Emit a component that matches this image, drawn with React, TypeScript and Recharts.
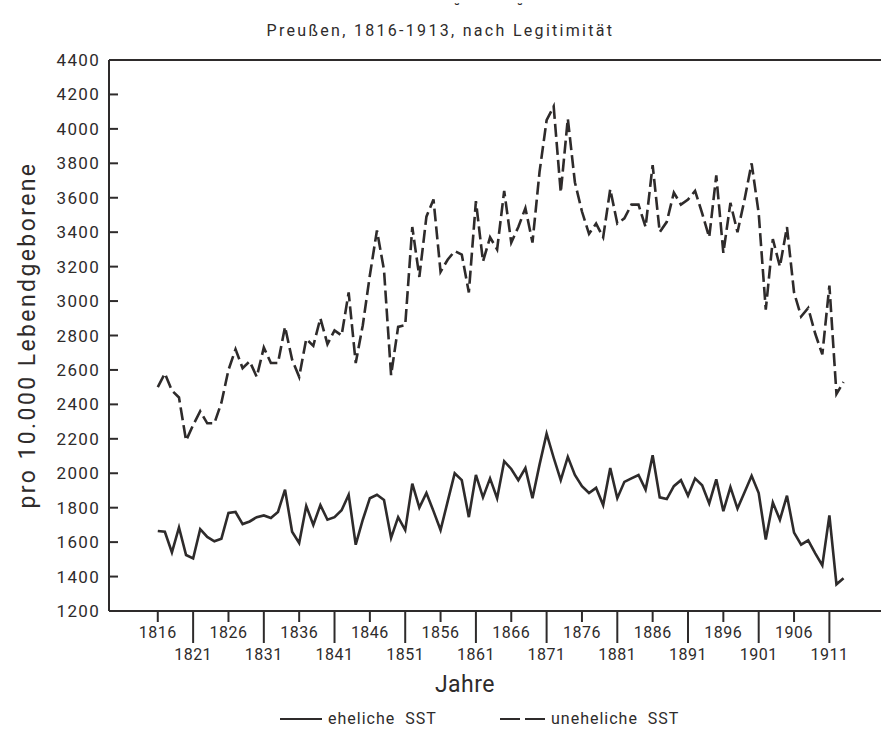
import { LineChart, Line, XAxis, YAxis, ReferenceLine } from 'recharts';

// Preußen 1816-1913, Säuglingssterblichkeit pro 10.000 Lebendgeborene
const YEARS = [
  1816, 1817, 1818, 1819, 1820, 1821, 1822, 1823, 1824, 1825,
  1826, 1827, 1828, 1829, 1830, 1831, 1832, 1833, 1834, 1835,
  1836, 1837, 1838, 1839, 1840, 1841, 1842, 1843, 1844, 1845,
  1846, 1847, 1848, 1849, 1850, 1851, 1852, 1853, 1854, 1855,
  1856, 1857, 1858, 1859, 1860, 1861, 1862, 1863, 1864, 1865,
  1866, 1867, 1868, 1869, 1870, 1871, 1872, 1873, 1874, 1875,
  1876, 1877, 1878, 1879, 1880, 1881, 1882, 1883, 1884, 1885,
  1886, 1887, 1888, 1889, 1890, 1891, 1892, 1893, 1894, 1895,
  1896, 1897, 1898, 1899, 1900, 1901, 1902, 1903, 1904, 1905,
  1906, 1907, 1908, 1909, 1910, 1911, 1912, 1913,
];

const EHELICHE = [
  1665, 1660, 1540, 1685, 1525, 1505, 1675, 1630, 1605, 1620,
  1770, 1775, 1705, 1720, 1745, 1755, 1740, 1775, 1905, 1660,
  1595, 1810, 1700, 1815, 1730, 1745, 1785, 1875, 1585, 1730,
  1855, 1875, 1845, 1625, 1745, 1670, 1940, 1800, 1885, 1780,
  1670, 1835, 2000, 1960, 1745, 1990, 1860, 1970, 1855, 2070,
  2025, 1960, 2030, 1855, 2050, 2230, 2090, 1960, 2095, 1990,
  1925, 1885, 1915, 1815, 2030, 1855, 1950, 1970, 1990, 1905,
  2105, 1860, 1850, 1925, 1960, 1870, 1970, 1930, 1825, 1965,
  1780, 1920, 1795, 1890, 1985, 1885, 1615, 1830, 1730, 1870,
  1655, 1585, 1610, 1535, 1465, 1755, 1355, 1390,
];

const UNEHELICHE = [
  2500, 2580, 2480, 2440, 2190, 2280, 2360, 2290, 2290, 2410,
  2600, 2720, 2610, 2650, 2560, 2730, 2640, 2640, 2850, 2660,
  2560, 2780, 2740, 2900, 2750, 2830, 2800, 3050, 2640, 2860,
  3150, 3410, 3180, 2570, 2850, 2860, 3430, 3140, 3490, 3590,
  3170, 3240, 3290, 3270, 3050, 3580, 3230, 3370, 3300, 3640,
  3340, 3430, 3540, 3340, 3750, 4050, 4130, 3630, 4060, 3690,
  3520, 3390, 3450, 3370, 3650, 3450, 3480, 3560, 3560, 3430,
  3790, 3400, 3460, 3630, 3560, 3590, 3640, 3510, 3370, 3730,
  3280, 3570, 3400, 3590, 3800, 3510, 2950, 3360, 3200, 3430,
  3050, 2910, 2960, 2810, 2690, 3090, 2460, 2530,
];

const X_TICKS = [1816, 1821, 1826, 1831, 1836, 1841, 1846, 1851, 1856, 1861, 1866, 1871, 1876, 1881, 1886, 1891, 1896, 1901, 1906, 1911];
const Y_TICKS = [1200, 1400, 1600, 1800, 2000, 2200, 2400, 2600, 2800, 3000, 3200, 3400, 3600, 3800, 4000, 4200, 4400];

const data = YEARS.map((year, i) => ({ year, ehel: EHELICHE[i], unehel: UNEHELICHE[i] }));

const INK = '#2e2b2b';
const FONT = 'Roboto, "DejaVu Sans", sans-serif';
const DASH = '13 5';

function XTick(props: any) {
  const { x, y, payload } = props;
  const long = ((payload.value - 1816) / 5) % 2 === 1;
  return (
    <g>
      <line x1={x} x2={x} y1={y} y2={y + (long ? 32 : 11)} stroke={INK} strokeWidth={2} />
      <text x={x} y={y + (long ? 49 : 27)} textAnchor="middle" fill={INK} fontSize={16} letterSpacing={0.5} fontFamily={FONT}>
        {payload.value}
      </text>
    </g>
  );
}

function YTick(props: any) {
  const { x, y, payload } = props;
  return (
    <g>
      <line x1={x} x2={x + 9} y1={y} y2={y} stroke={INK} strokeWidth={2} />
      <text x={x - 9} y={y + 6} textAnchor="end" fill={INK} fontSize={17} letterSpacing={1.3} fontFamily={FONT}>
        {payload.value}
      </text>
    </g>
  );
}

export default function App() {
  return (
    <div style={{ position: 'absolute', left: 0, top: 0, width: 881, height: 731, background: '#fff' }}>
      <svg style={{ position: 'absolute', left: 0, top: 0 }} width={881} height={18}>
        <text x={457} y={13} textAnchor="middle" fill={INK} fontSize={13} fontWeight="bold" fontFamily={FONT}>˘</text>
        <text x={520} y={13} textAnchor="middle" fill={INK} fontSize={13} fontWeight="bold" fontFamily={FONT}>˘</text>
      </svg>
      <div style={{ position: 'absolute', left: 0, top: 21, width: 881, textAlign: 'center', fontFamily: FONT, fontSize: 16, lineHeight: '19px', letterSpacing: 2.3, color: INK }}>
        Preußen, 1816-1913, nach Legitimität
      </div>
      <LineChart width={881} height={731} data={data} margin={{ top: 60, right: 0, left: 49, bottom: 60 }}>
        <XAxis
          dataKey="year"
          type="number"
          domain={[1809.1, 1918.3]}
          ticks={X_TICKS}
          interval={0}
          height={60}
          tickSize={0}
          tickMargin={0}
          tick={<XTick />}
          axisLine={{ stroke: INK, strokeWidth: 2 }}
          tickLine={false}
          label={() => (
            <text x={465} y={692} textAnchor="middle" fill={INK} fontSize={23} letterSpacing={0.5} fontFamily={FONT}>Jahre</text>
          )}
        />
        <YAxis
          type="number"
          domain={[1200, 4400]}
          ticks={Y_TICKS}
          interval={0}
          width={60}
          tickSize={0}
          tickMargin={0}
          tick={<YTick />}
          axisLine={{ stroke: INK, strokeWidth: 2 }}
          tickLine={false}
          label={() => (
            <text x={27} y={335} transform="rotate(-90 27 335)" textAnchor="middle" dominantBaseline="central" fill={INK} fontSize={23} letterSpacing={2.4} fontFamily={FONT}>
              pro 10.000 Lebendgeborene
            </text>
          )}
        />
        <ReferenceLine y={4400} stroke={INK} strokeWidth={2} />
        <Line type="linear" dataKey="unehel" stroke={INK} strokeWidth={2.6} strokeDasharray={DASH} dot={false} isAnimationActive={false} />
        <Line type="linear" dataKey="ehel" stroke={INK} strokeWidth={2.6} dot={false} isAnimationActive={false} />
      </LineChart>
      <svg style={{ position: 'absolute', left: 0, top: 705 }} width={881} height={26}>
        <line x1={280} x2={322} y1={14} y2={14} stroke={INK} strokeWidth={2} />
        <text x={328} y={19} fill={INK} fontSize={16} letterSpacing={1} wordSpacing={5} fontFamily={FONT}>eheliche SST</text>
        <line x1={500} x2={545} y1={14} y2={14} stroke={INK} strokeWidth={2} strokeDasharray="20 5" />
        <text x={551} y={19} fill={INK} fontSize={16} letterSpacing={1} wordSpacing={5} fontFamily={FONT}>uneheliche SST</text>
      </svg>
    </div>
  );
}
